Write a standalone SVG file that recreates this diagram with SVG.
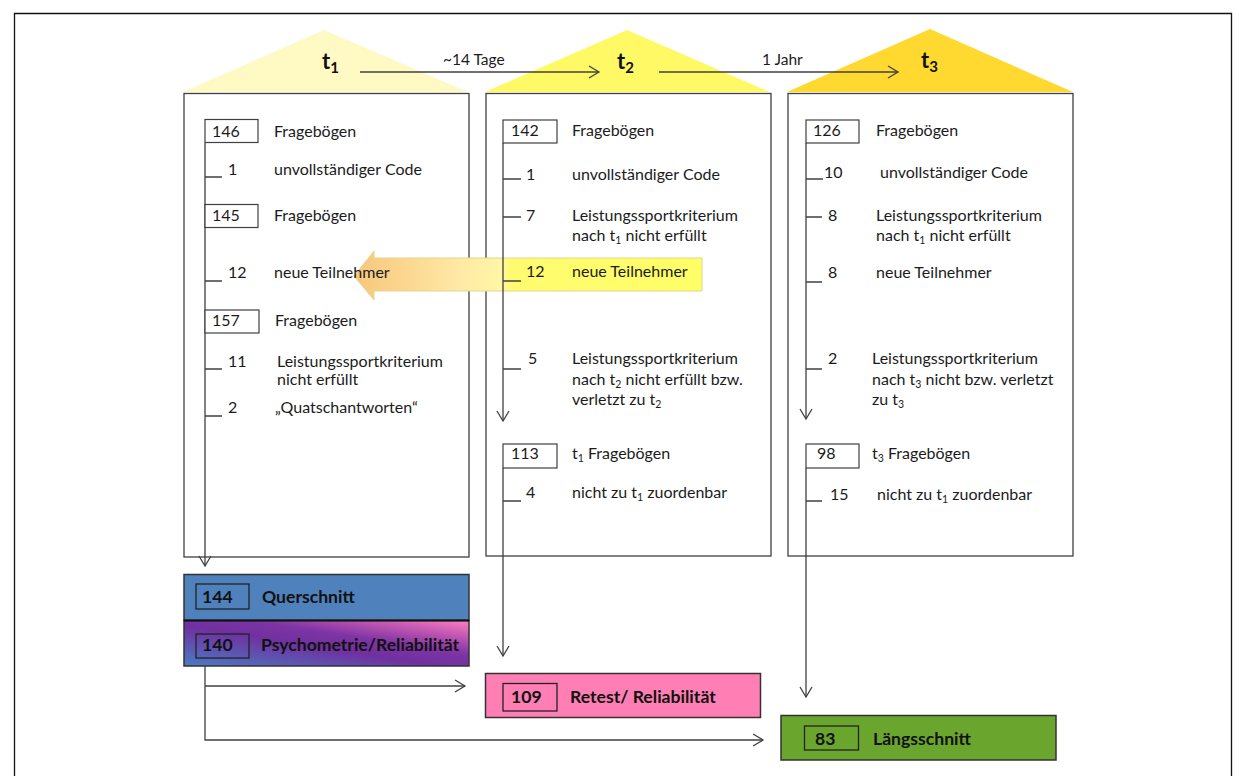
<svg xmlns="http://www.w3.org/2000/svg" width="1239" height="776" viewBox="0 0 1239 776">
  <style>
    .t { font-family: Lato, "Liberation Sans", sans-serif; font-size: 16px; fill: #1b1b1b; }
    .small { font-size: 15.5px; }
    .b { font-family: Lato, "Liberation Sans", sans-serif; font-size: 17.6px; font-weight: bold; fill: #111; }
    .head { font-family: Lato, "Liberation Sans", sans-serif; font-size: 22px; font-weight: bold; fill: #111; }
    .panel { fill: #fff; stroke: #404040; stroke-width: 1.3; }
    .num { fill: #fff; stroke: #404040; stroke-width: 1.2; }
    .numd { fill: none; stroke: #222; stroke-width: 1.3; }
    .res { stroke: #333; stroke-width: 1.5; }
    .ln { fill: none; stroke: #404040; stroke-width: 1.3; }
    .arr { marker-end: url(#open); }
  </style>
  <defs>
    <marker id="open" markerUnits="userSpaceOnUse" markerWidth="14" markerHeight="14" refX="11" refY="7" orient="auto">
      <path d="M1,1 L11,7 L1,13" fill="none" stroke="#404040" stroke-width="1.3"/>
    </marker>
    <linearGradient id="newArrow" gradientUnits="userSpaceOnUse" x1="355" y1="0" x2="702" y2="0">
      <stop offset="0" stop-color="#F8C67C"/>
      <stop offset="0.3" stop-color="#FFE9A6"/>
      <stop offset="0.42" stop-color="#FFF6A6"/>
      <stop offset="0.45" stop-color="#FFFB70"/>
      <stop offset="1" stop-color="#FFFF66"/>
    </linearGradient>
    <linearGradient id="psycho" x1="0" y1="1" x2="1" y2="0">
      <stop offset="0" stop-color="#4A7CC2"/>
      <stop offset="0.45" stop-color="#7030A0"/>
      <stop offset="0.62" stop-color="#7E34A4"/>
      <stop offset="0.82" stop-color="#C458B2"/>
      <stop offset="1" stop-color="#FF80C0"/>
    </linearGradient>
  </defs>

  <!-- outer frame -->
  <path d="M14.5,776 V13.5 H1231.5 V776" fill="none" stroke="#111" stroke-width="1.3"/>

  <!-- phase panels -->
  <g id="phase-t1">
    <polygon points="183,92 324,30 468,92" fill="#FFF9C4"/>
    <rect class="panel" x="184" y="93.5" width="285" height="463.5"/>
    <text class="head" x="322" y="69">t<tspan font-size="15" dy="4">1</tspan></text>
  </g>
  <g id="phase-t2">
    <polygon points="485,92 627,30 770,92" fill="#FFF966"/>
    <rect class="panel" x="486" y="93.5" width="285" height="462.5"/>
    <text class="head" x="617" y="69">t<tspan font-size="15" dy="4">2</tspan></text>
  </g>
  <g id="phase-t3">
    <polygon points="787,92 930,29 1073,92" fill="#FFD92F"/>
    <rect class="panel" x="788" y="93.5" width="285" height="462.5"/>
    <text class="head" x="921" y="68">t<tspan font-size="15" dy="4">3</tspan></text>
  </g>

  <!-- new participants carried from t2 back to t1 -->
  <g id="new-participants">
    <polygon points="354,276 374,251 374,258 702,258 702,291 374,291 374,300" fill="url(#newArrow)" stroke="#E4D58E" stroke-width="1"/>
  </g>

  <!-- connectors -->
  <g id="connectors">
    <line class="ln arr" x1="360" y1="72" x2="599" y2="72"/>
    <line class="ln arr" x1="659" y1="72" x2="898" y2="72"/>
    <line class="ln arr" x1="205" y1="143" x2="205" y2="566"/>
    <line class="ln arr" x1="503" y1="143" x2="503" y2="421"/>
    <line class="ln arr" x1="503" y1="468" x2="503" y2="656"/>
    <line class="ln arr" x1="806" y1="143" x2="806" y2="419"/>
    <line class="ln arr" x1="806" y1="468" x2="806" y2="697"/>
    <path class="ln arr" d="M205,666 V740 H763"/>
    <path class="ln arr" d="M205,686 H465"/>
    <!-- tick marks for removed / added counts -->
    <path class="ln" d="M205,177 H222 M205,281 H222 M205,369 H222 M205,416 H222"/>
    <path class="ln" d="M503,179 H521 M503,217 H521 M503,281 H521 M503,369 H521 M503,501 H521"/>
    <path class="ln" d="M806,179 H823 M806,217 H822 M806,282 H822 M806,369 H822 M806,501 H822"/>
  </g>
  <text class="t small" x="443" y="65">~14 Tage</text>
  <text class="t small" x="762" y="65">1 Jahr</text>

  <!-- t1 steps -->
  <g id="t1-steps">
    <rect class="num" x="205" y="119.5" width="53" height="23"/>
    <text class="t" x="212" y="137">146</text>
    <text class="t" x="274" y="137">Fragebögen</text>
    <text class="t" x="228" y="175">1</text>
    <text class="t" x="274" y="175">unvollständiger Code</text>
    <rect class="num" x="205" y="204.5" width="53" height="23"/>
    <text class="t" x="212" y="221">145</text>
    <text class="t" x="274" y="221">Fragebögen</text>
    <text class="t" x="228" y="278">12</text>
    <text class="t" x="274" y="278">neue Teilnehmer</text>
    <rect class="num" x="205" y="310" width="54" height="23"/>
    <text class="t" x="212" y="326">157</text>
    <text class="t" x="275" y="326">Fragebögen</text>
    <text class="t" x="228" y="367">11</text>
    <text class="t" x="277" y="367">Leistungssportkriterium</text>
    <text class="t" x="277" y="385">nicht erfüllt</text>
    <text class="t" x="228" y="413">2</text>
    <text class="t" x="275" y="413">„Quatschantworten“</text>
  </g>

  <!-- t2 steps -->
  <g id="t2-steps">
    <rect class="num" x="503" y="120" width="54" height="23"/>
    <text class="t" x="511" y="136">142</text>
    <text class="t" x="572" y="136">Fragebögen</text>
    <text class="t" x="526" y="180">1</text>
    <text class="t" x="572" y="180">unvollständiger Code</text>
    <text class="t" x="526" y="221">7</text>
    <text class="t" x="572" y="221">Leistungssportkriterium</text>
    <text class="t" x="572" y="241">nach t<tspan font-size="10.5" dy="3">1</tspan><tspan dy="-3"> nicht erfüllt</tspan></text>
    <text class="t" x="526" y="277">12</text>
    <text class="t" x="572" y="277">neue Teilnehmer</text>
    <text class="t" x="528" y="364">5</text>
    <text class="t" x="572" y="364">Leistungssportkriterium</text>
    <text class="t" x="572" y="385">nach t<tspan font-size="10.5" dy="3">2</tspan><tspan dy="-3"> nicht erfüllt bzw.</tspan></text>
    <text class="t" x="572" y="405">verletzt zu t<tspan font-size="10.5" dy="3">2</tspan></text>
    <rect class="num" x="503" y="444" width="54" height="24"/>
    <text class="t" x="511" y="459">113</text>
    <text class="t" x="572" y="459">t<tspan font-size="10.5" dy="3">1</tspan><tspan dy="-3"> Fragebögen</tspan></text>
    <text class="t" x="526" y="498">4</text>
    <text class="t" x="572" y="498">nicht zu t<tspan font-size="10.5" dy="3">1</tspan><tspan dy="-3"> zuordenbar</tspan></text>
  </g>

  <!-- t3 steps -->
  <g id="t3-steps">
    <rect class="num" x="806" y="120" width="53" height="23"/>
    <text class="t" x="813" y="136">126</text>
    <text class="t" x="876" y="136">Fragebögen</text>
    <text class="t" x="824" y="178">10</text>
    <text class="t" x="880" y="178">unvollständiger Code</text>
    <text class="t" x="828" y="221">8</text>
    <text class="t" x="876" y="221">Leistungssportkriterium</text>
    <text class="t" x="876" y="241">nach t<tspan font-size="10.5" dy="3">1</tspan><tspan dy="-3"> nicht erfüllt</tspan></text>
    <text class="t" x="828" y="278">8</text>
    <text class="t" x="876" y="278">neue Teilnehmer</text>
    <text class="t" x="828" y="364">2</text>
    <text class="t" x="872" y="364">Leistungssportkriterium</text>
    <text class="t" x="872" y="385">nach t<tspan font-size="10.5" dy="3">3</tspan><tspan dy="-3"> nicht bzw. verletzt</tspan></text>
    <text class="t" x="872" y="405">zu t<tspan font-size="10.5" dy="3">3</tspan></text>
    <rect class="num" x="806" y="444" width="53" height="24"/>
    <text class="t" x="817" y="459">98</text>
    <text class="t" x="872" y="459">t<tspan font-size="10.5" dy="3">3</tspan><tspan dy="-3"> Fragebögen</tspan></text>
    <text class="t" x="830" y="500">15</text>
    <text class="t" x="877" y="500">nicht zu t<tspan font-size="10.5" dy="3">1</tspan><tspan dy="-3"> zuordenbar</tspan></text>
  </g>

  <!-- resulting samples -->
  <g id="querschnitt">
    <rect class="res" x="184" y="574.5" width="285" height="46" fill="#4F81BD"/>
    <rect class="numd" x="196" y="584" width="53" height="25"/>
    <text class="b" x="202" y="603">144</text>
    <text class="b" x="262" y="603">Querschnitt</text>
  </g>
  <g id="psychometrie">
    <rect class="res" x="184" y="620.5" width="285" height="45.5" fill="url(#psycho)"/>
    <line x1="184" y1="620.5" x2="469" y2="620.5" stroke="#111" stroke-width="2"/>
    <rect class="numd" x="196" y="634" width="53" height="24"/>
    <text class="b" x="202" y="651">140</text>
    <text class="b" x="261" y="651">Psychometrie/Reliabilität</text>
  </g>
  <g id="retest">
    <rect class="res" x="485.5" y="673.5" width="275" height="44" fill="#FF7FB4"/>
    <rect class="numd" x="503" y="683.5" width="54" height="27.5"/>
    <text class="b" x="511" y="703">109</text>
    <text class="b" x="570" y="703">Retest/ Reliabilität</text>
  </g>
  <g id="laengsschnitt">
    <rect class="res" x="781" y="715.5" width="275" height="44.5" fill="#6AA52E"/>
    <rect class="numd" x="804.5" y="726" width="54" height="24"/>
    <text class="b" x="815" y="745">83</text>
    <text class="b" x="873" y="745">Längsschnitt</text>
  </g>
</svg>
